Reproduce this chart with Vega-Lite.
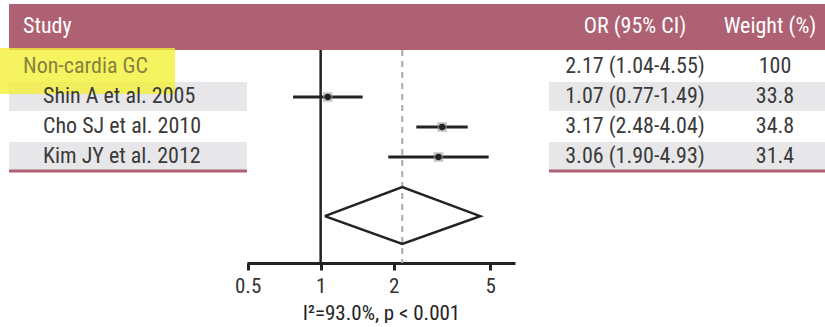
{
  "$schema": "https://vega.github.io/schema/vega-lite/v6.json",
  "padding": 0,
  "spacing": 0,
  "bounds": "flush",
  "background": "white",
  "config": {"view": {"stroke": null}, "font": "Roboto Condensed, Arial Narrow, Liberation Sans Narrow, Nimbus Sans Narrow, Open Sans Condensed, serif"},
  "datasets": {
    "studies": [
      {"label": "Non-cardia GC", "row": 1, "or": 2.17, "lo": 1.04, "hi": 4.55, "ci": "2.17 (1.04-4.55)", "weight": "100", "kind": "pooled", "shade": false},
      {"label": "Shin A et al. 2005", "row": 2, "or": 1.07, "lo": 0.77, "hi": 1.49, "ci": "1.07 (0.77-1.49)", "weight": "33.8", "kind": "study", "shade": true},
      {"label": "Cho SJ et al. 2010", "row": 3, "or": 3.17, "lo": 2.48, "hi": 4.04, "ci": "3.17 (2.48-4.04)", "weight": "34.8", "kind": "study", "shade": false},
      {"label": "Kim JY et al. 2012", "row": 4, "or": 3.06, "lo": 1.90, "hi": 4.93, "ci": "3.06 (1.90-4.93)", "weight": "31.4", "kind": "study", "shade": true}
    ],
    "diamond": [
      {"x": 1.04, "y": 5.97, "o": 1},
      {"x": 2.17, "y": 5.0, "o": 2},
      {"x": 4.55, "y": 5.97, "o": 3},
      {"x": 2.17, "y": 6.9, "o": 4},
      {"x": 1.04, "y": 5.97, "o": 5}
    ]
  },
  "hconcat": [
    {
      "width": 247,
      "height": 263,
      "layer": [
        {
          "data": {"values": [{}]},
          "mark": {"type": "rect", "color": "#ae6173"},
          "encoding": {
            "x": {"datum": 9, "type": "quantitative", "scale": {"domain": [0, 247], "nice": false, "zero": false}, "axis": null},
            "x2": {"datum": 247},
            "y": {"datum": -1.1, "type": "quantitative", "scale": {"domain": [-1.2333, 7.5333], "reverse": true, "nice": false, "zero": false}, "axis": null},
            "y2": {"datum": 0.433}
          }
        },
        {
          "data": {"values": [{}]},
          "mark": {"type": "text", "text": "Study", "align": "left", "baseline": "middle", "color": "white", "fontSize": 22, "dy": -1},
          "encoding": {
            "x": {"datum": 23, "type": "quantitative", "axis": null},
            "y": {"datum": -0.333, "type": "quantitative", "axis": null}
          }
        },
        {
          "data": {"name": "studies"},
          "transform": [{"filter": "datum.shade"}],
          "mark": {"type": "rect", "color": "#e7e7ea", "yOffset": -15, "y2Offset": 14},
          "encoding": {
            "x": {"datum": 9, "type": "quantitative", "axis": null},
            "x2": {"datum": 247},
            "y": {"field": "row", "type": "quantitative", "axis": null},
            "y2": {"field": "row"}
          }
        },
        {
          "data": {"values": [{}]},
          "mark": {"type": "rect", "color": "#f4f03a", "opacity": 0.8},
          "encoding": {
            "x": {"datum": 0, "type": "quantitative", "axis": null},
            "x2": {"datum": 175},
            "y": {"datum": 0.367, "type": "quantitative", "axis": null},
            "y2": {"datum": 1.9}
          }
        },
        {
          "data": {"values": [{}]},
          "mark": {"type": "rect", "color": "#ae6173"},
          "encoding": {
            "x": {"datum": 9, "type": "quantitative", "axis": null},
            "x2": {"datum": 247},
            "y": {"datum": 4.42, "type": "quantitative", "axis": null},
            "y2": {"datum": 4.52}
          }
        },
        {
          "data": {"name": "studies"},
          "transform": [{"filter": "datum.kind == 'pooled'"}],
          "mark": {"type": "text", "align": "left", "baseline": "middle", "color": "#85833c", "fontSize": 22, "dy": -1},
          "encoding": {
            "x": {"datum": 23, "type": "quantitative", "axis": null},
            "y": {"field": "row", "type": "quantitative", "axis": null},
            "text": {"field": "label"}
          }
        },
        {
          "data": {"name": "studies"},
          "transform": [{"filter": "datum.kind == 'study'"}],
          "mark": {"type": "text", "align": "left", "baseline": "middle", "color": "#3a3a3a", "fontSize": 22, "dy": -1},
          "encoding": {
            "x": {"datum": 43, "type": "quantitative", "axis": null},
            "y": {"field": "row", "type": "quantitative", "axis": null},
            "text": {"field": "label"}
          }
        }
      ]
    },
    {
      "width": 268,
      "height": 263,
      "layer": [
        {
          "data": {"values": [{}]},
          "mark": {"type": "rect", "color": "#ae6173"},
          "encoding": {
            "x": {"datum": 0.497, "type": "quantitative", "scale": {"type": "log", "domain": [0.497, 6.33], "nice": false, "zero": false},
                  "axis": {"values": [0.5, 1, 2, 5], "format": "~g", "title": "I²=93.0%, p < 0.001", "grid": false, "domainColor": "#222", "domainWidth": 3, "domainCap": "butt", "tickColor": "#222", "tickWidth": 3, "tickSize": 7, "labelFontSize": 21, "labelColor": "#333", "labelFlush": false, "labelPadding": 5, "titleFontSize": 21, "titleFontWeight": "normal", "titleColor": "#222", "titlePadding": 6}},
            "x2": {"datum": 6.33},
            "y": {"datum": -1.1, "type": "quantitative", "scale": {"domain": [-1.2333, 7.5333], "reverse": true, "nice": false, "zero": false}, "axis": null},
            "y2": {"datum": 0.433}
          }
        },
        {
          "data": {"values": [{}]},
          "mark": {"type": "rule", "color": "#222", "strokeWidth": 2.5},
          "encoding": {
            "x": {"datum": 1, "type": "quantitative"},
            "y": {"datum": 0.433, "type": "quantitative", "axis": null},
            "y2": {"datum": 7.533}
          }
        },
        {
          "data": {"values": [{}]},
          "mark": {"type": "rule", "color": "#aaaaaa", "strokeWidth": 2, "strokeDash": [6, 5]},
          "encoding": {
            "x": {"datum": 2.17, "type": "quantitative"},
            "y": {"datum": 0.433, "type": "quantitative", "axis": null},
            "y2": {"datum": 7.533}
          }
        },
        {
          "data": {"name": "studies"},
          "transform": [{"filter": "datum.kind == 'study'"}],
          "mark": {"type": "rule", "color": "#222", "strokeWidth": 3},
          "encoding": {
            "x": {"field": "lo", "type": "quantitative"},
            "x2": {"field": "hi"},
            "y": {"field": "row", "type": "quantitative", "axis": null}
          }
        },
        {
          "data": {"name": "studies"},
          "transform": [{"filter": "datum.kind == 'study'"}],
          "mark": {"type": "point", "shape": "square", "filled": true, "color": "#999999", "opacity": 0.6, "size": 90},
          "encoding": {
            "x": {"field": "or", "type": "quantitative"},
            "y": {"field": "row", "type": "quantitative", "axis": null}
          }
        },
        {
          "data": {"name": "studies"},
          "transform": [{"filter": "datum.kind == 'study'"}],
          "mark": {"type": "point", "shape": "circle", "filled": true, "color": "#222", "opacity": 1, "size": 40},
          "encoding": {
            "x": {"field": "or", "type": "quantitative"},
            "y": {"field": "row", "type": "quantitative", "axis": null}
          }
        },
        {
          "data": {"name": "diamond"},
          "mark": {"type": "line", "color": "#222", "strokeWidth": 2.5, "strokeJoin": "miter"},
          "encoding": {
            "x": {"field": "x", "type": "quantitative"},
            "y": {"field": "y", "type": "quantitative", "axis": null},
            "order": {"field": "o"}
          }
        }
      ]
    },
    {
      "width": 310,
      "height": 263,
      "layer": [
        {
          "data": {"values": [{}]},
          "mark": {"type": "rect", "color": "#ae6173"},
          "encoding": {
            "x": {"datum": 0, "type": "quantitative", "scale": {"domain": [0, 310], "nice": false, "zero": false}, "axis": null},
            "x2": {"datum": 310},
            "y": {"datum": -1.1, "type": "quantitative", "scale": {"domain": [-1.2333, 7.5333], "reverse": true, "nice": false, "zero": false}, "axis": null},
            "y2": {"datum": 0.433}
          }
        },
        {
          "data": {"values": [{"t": "OR (95% CI)", "c": 120}, {"t": "Weight (%)", "c": 255}]},
          "mark": {"type": "text", "align": "center", "baseline": "middle", "color": "white", "fontSize": 22, "dy": -1},
          "encoding": {
            "x": {"field": "c", "type": "quantitative", "axis": null},
            "y": {"datum": -0.333, "type": "quantitative", "axis": null},
            "text": {"field": "t"}
          }
        },
        {
          "data": {"name": "studies"},
          "transform": [{"filter": "datum.shade"}],
          "mark": {"type": "rect", "color": "#e7e7ea", "yOffset": -15, "y2Offset": 14},
          "encoding": {
            "x": {"datum": 34, "type": "quantitative", "axis": null},
            "x2": {"datum": 310},
            "y": {"field": "row", "type": "quantitative", "axis": null},
            "y2": {"field": "row"}
          }
        },
        {
          "data": {"values": [{}]},
          "mark": {"type": "rect", "color": "#ae6173"},
          "encoding": {
            "x": {"datum": 34, "type": "quantitative", "axis": null},
            "x2": {"datum": 310},
            "y": {"datum": 4.42, "type": "quantitative", "axis": null},
            "y2": {"datum": 4.52}
          }
        },
        {
          "data": {"name": "studies"},
          "mark": {"type": "text", "align": "center", "baseline": "middle", "color": "#3a3a3a", "fontSize": 22, "dy": -1},
          "encoding": {
            "x": {"datum": 120, "type": "quantitative", "axis": null},
            "y": {"field": "row", "type": "quantitative", "axis": null},
            "text": {"field": "ci"}
          }
        },
        {
          "data": {"name": "studies"},
          "mark": {"type": "text", "align": "center", "baseline": "middle", "color": "#3a3a3a", "fontSize": 22, "dy": -1},
          "encoding": {
            "x": {"datum": 260, "type": "quantitative", "axis": null},
            "y": {"field": "row", "type": "quantitative", "axis": null},
            "text": {"field": "weight"}
          }
        }
      ]
    }
  ]
}
